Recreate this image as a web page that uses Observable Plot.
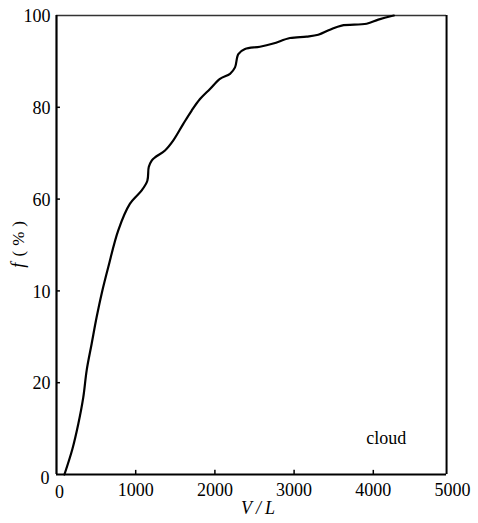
<!DOCTYPE html>
<html>
<head>
<meta charset="utf-8">
<script src="https://cdn.jsdelivr.net/npm/d3@7"></script>
<script src="https://cdn.jsdelivr.net/npm/@observablehq/plot@0.6"></script>
<style>
  html, body { margin: 0; padding: 0; background: #fff; }
  svg { display: block; }
</style>
</head>
<body>
<div id="chart"></div>
<script>
// Curve
const volume = [100, 200, 275, 338, 381, 444, 507, 570, 654, 780, 928, 1076, 1147, 1165, 1202, 1244, 1370, 1475, 1601, 1707, 1812, 1938, 2064, 2191, 2254, 2296, 2380, 2569, 2737, 2948, 3158, 3305, 3453, 3600, 3916, 4063, 4232, 4260];
const fraction = [0, 5.5, 11, 16.8, 22.7, 28.5, 34.3, 39.4, 45.2, 53.2, 59, 61.9, 64, 67, 68.4, 69.1, 70.6, 72.8, 76.4, 79.3, 81.8, 84, 86.2, 87.3, 88.7, 91.6, 92.7, 93.2, 93.9, 95.1, 95.4, 95.8, 96.9, 97.8, 98.2, 99.1, 99.9, 100];

const xTicks = [0, 1000, 2000, 3000, 4000, 5000];
const xTickLabels = ["0", "1000", "2000", "3000", "4000", "5000"];
const yTicks = [0, 20, 40, 60, 80, 100];
const yTickLabels = ["0", "20", "10", "60", "80", "100"];
const frameRight = 4925;
const xLabel = "V/L";
const yLabelVar = "f";
const yLabelUnit = "(%)";
const seriesLabel = "cloud";

const data = volume.map((v, i) => ({v, f: fraction[i]}));
const xLab = xTicks.map((t, i) => ({t, label: xTickLabels[i]}));
const yLab = yTicks.map((t, i) => ({t, label: yTickLabels[i]}));
const font = "'Liberation Serif', 'DejaVu Serif', serif";

const chart = Plot.plot({
  width: 478,
  height: 523,
  marginLeft: 56,
  marginRight: 26,
  marginTop: 15,
  marginBottom: 49,
  style: {fontFamily: font, fontSize: "18px", color: "#000", background: "#fff"},
  x: {domain: [0, 5000], axis: null},
  y: {domain: [0, 100], axis: null},
  marks: [
    // frame
    Plot.ruleY([100], {x1: 0, x2: frameRight, stroke: "#333", strokeWidth: 1.5}),
    Plot.ruleX([frameRight], {y1: 0, y2: 100, stroke: "#000", strokeWidth: 2}),
    Plot.ruleX([0], {y1: 0, y2: 100, stroke: "#000", strokeWidth: 2.2}),
    Plot.ruleY([0], {x1: 0, x2: frameRight, stroke: "#000", strokeWidth: 2.2}),
    // inward ticks
    Plot.ruleX(xTicks.filter(d => d > 0 && d < frameRight), {y1: 0, y2: 0.9, stroke: "#000", strokeWidth: 1.5}),
    Plot.ruleY(yTicks.filter(d => d > 0 && d < 100), {x1: 0, x2: 50, stroke: "#000", strokeWidth: 1.5}),
    // tick labels
    Plot.text(xLab.filter(d => d.t > 0), {x: "t", y: () => 0, text: "label", dy: 16, fontSize: 18, fill: "#000"}),
    Plot.text(xLab.filter(d => d.t === 0), {x: "t", y: () => 0, text: "label", dx: 3, dy: 18, fontSize: 18, fill: "#000"}),
    Plot.text(yLab.filter(d => d.t > 0), {x: () => 0, y: "t", text: "label", dx: -6, dy: 1, textAnchor: "end", fontSize: 18, fill: "#000"}),
    Plot.text(yLab.filter(d => d.t === 0), {x: () => 0, y: "t", text: "label", dx: -7, dy: 4, textAnchor: "end", fontSize: 18, fill: "#000"}),
    // curve
    Plot.line(data, {x: "v", y: "f", stroke: "#000", strokeWidth: 2.2, curve: "catmull-rom"}),
    // series label
    Plot.text([seriesLabel], {x: 4165, y: 7.8, text: d => d, fontSize: 18, fill: "#000"}),
    // axis labels
    Plot.text([xLabel], {x: 2570, y: 0, text: d => d, dy: 34, fontSize: 18, fontStyle: "italic", fill: "#000"}),
    Plot.text([yLabelVar], {x: 0, y: 45.6, text: d => d, dx: -38, rotate: -90, fontSize: 18, fontStyle: "italic", fill: "#000"}),
    Plot.text([yLabelUnit], {x: 0, y: 51.9, text: d => d, dx: -38, rotate: -90, fontSize: 17, fill: "#000"})
  ]
});
d3.select(chart).selectAll("text").filter(function() { return this.textContent === xLabel; }).attr("letter-spacing", "4px");
d3.select(chart).selectAll("text").filter(function() { return this.textContent === yLabelUnit; }).attr("letter-spacing", "5px");
document.getElementById("chart").appendChild(chart);
</script>
</body>
</html>
